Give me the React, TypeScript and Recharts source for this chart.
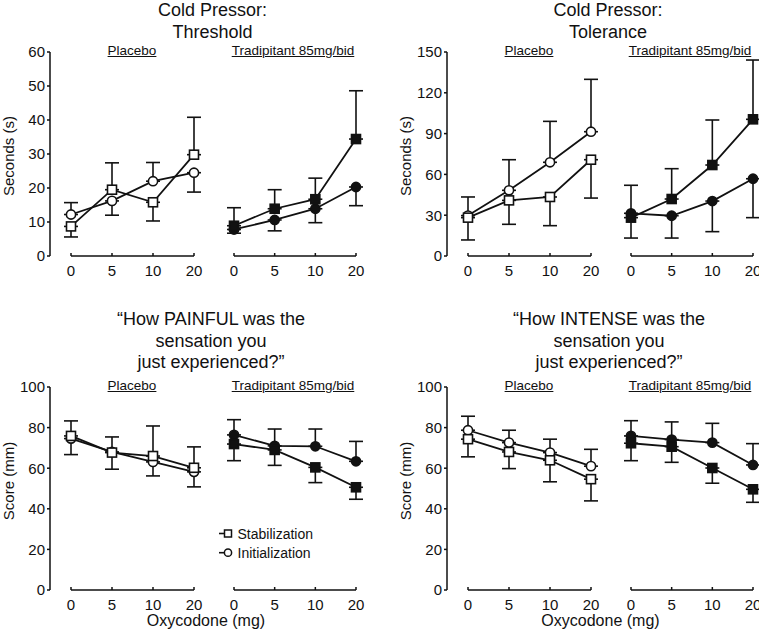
import React from "react";
import { LineChart, Line, XAxis, YAxis, ErrorBar, ReferenceLine } from "recharts";

const INK = "#111";
const FONT = '"Liberation Sans", Arial, Helvetica, sans-serif';

const doses = ["0", "5", "10", "20"];

// Cold Pressor: Threshold (s) — means and the end of the drawn error bar
const thrPlaStab = [8.7, 19.5, 15.8, 29.8];
const thrPlaStabCap = [5.6, 27.4, 10.3, 40.8];
const thrPlaInit = [12.2, 16.2, 22.0, 24.5];
const thrPlaInitCap = [15.7, 12.0, 27.5, 18.8];
const thrTraStab = [8.9, 13.9, 16.7, 34.4];
const thrTraStabCap = [14.2, 19.5, 22.9, 48.6];
const thrTraInit = [7.8, 10.6, 13.9, 20.3];
const thrTraInitCap = [6.7, 7.4, 9.8, 14.8];

// Cold Pressor: Tolerance (s)
const tolPlaStab = [28.2, 40.9, 43.4, 70.8];
const tolPlaStabCap = [11.8, 23.3, 22.3, 42.6];
const tolPlaInit = [29.7, 48.3, 68.9, 91.4];
const tolPlaInitCap = [43.4, 70.8, 99.0, 129.9];
const tolTraStab = [28.2, 41.9, 66.9, 100.5];
const tolTraStabCap = [52.0, 64.2, 100.0, 144.1];
const tolTraInit = [31.4, 29.6, 40.4, 56.8];
const tolTraInitCap = [13.2, 13.2, 17.9, 28.2];

// "How PAINFUL..." score (mm)
const painPlaStab = [75.9, 67.7, 66.0, 60.2];
const painPlaStabCap = [83.3, 75.4, 80.8, 70.5];
const painPlaInit = [74.6, 68.0, 63.1, 58.2];
const painPlaInitCap = [66.7, 59.5, 56.2, 50.8];
const painTraStab = [71.9, 69.0, 60.4, 50.6];
const painTraStabCap = [63.7, 61.4, 52.9, 44.7];
const painTraInit = [76.4, 71.0, 70.8, 63.4];
const painTraInitCap = [83.9, 79.3, 79.3, 73.2];

// "How INTENSE..." score (mm)
const intPlaStab = [74.3, 68.0, 63.9, 54.6];
const intPlaStabCap = [65.6, 59.8, 53.3, 43.9];
const intPlaInit = [78.7, 72.6, 67.7, 61.0];
const intPlaInitCap = [85.6, 78.7, 74.3, 69.3];
const intTraStab = [72.3, 70.6, 60.1, 49.6];
const intTraStabCap = [63.7, 62.9, 52.6, 43.2];
const intTraInit = [75.9, 74.1, 72.6, 61.6];
const intTraInitCap = [83.4, 82.8, 82.1, 72.1];

const secTicks60 = [0, 10, 20, 30, 40, 50, 60];
const secTicks150 = [0, 30, 60, 90, 120, 150];
const scoreTicks = [0, 20, 40, 60, 80, 100];

// one-sided error bars: [below, above]
const errOf = (mean: number, cap: number): [number, number] =>
  cap >= mean ? [0, cap - mean] : [mean - cap, 0];

const rows = (stab: number[], stabCap: number[], init: number[], initCap: number[]) =>
  doses.map((dose, i) => ({
    dose,
    stab: stab[i],
    init: init[i],
    stabErr: errOf(stab[i], stabCap[i]),
    initErr: errOf(init[i], initCap[i]),
  }));

const squareDot = (filled: boolean) => (p: any) => (
  <rect
    key={`s${p.index}`}
    x={p.cx - 4.5}
    y={p.cy - 4.5}
    width={9}
    height={9}
    fill={filled ? INK : "#fff"}
    stroke={INK}
    strokeWidth={1.6}
  />
);

const circleDot = (filled: boolean) => (p: any) => (
  <circle
    key={`c${p.index}`}
    cx={p.cx}
    cy={p.cy}
    r={4.6}
    fill={filled ? INK : "#fff"}
    stroke={INK}
    strokeWidth={1.6}
  />
);

const TOP_M = 12;
const X_H = 34;

function SubChart(props: any) {
  const { data, left, top, width, plotH, margin, padLeft, domain, ticks, showY, filled } = props;
  return (
    <div style={{ position: "absolute", left, top }}>
      <LineChart width={width} height={TOP_M + plotH + X_H} data={data} margin={margin}>
        <XAxis
          dataKey="dose"
          axisLine={false}
          tickLine={{ stroke: INK, strokeWidth: 1.5 }}
          tickSize={-3}
          tickMargin={12}
          tick={{ fill: INK, fontSize: 15 }}
          padding={{ left: padLeft, right: 0 }}
          height={X_H}
          interval={0}
        />
        <YAxis
          hide={!showY}
          width={50}
          domain={domain}
          ticks={ticks}
          interval={0}
          axisLine={{ stroke: INK, strokeWidth: 1.5 }}
          tickLine={{ stroke: INK, strokeWidth: 1.5 }}
          tickSize={3}
          tickMargin={2}
          tick={{ fill: INK, fontSize: 15 }}
        />
        <ReferenceLine
          segment={[
            { x: "0", y: 0 },
            { x: "20", y: 0 },
          ]}
          stroke={INK}
          strokeWidth={1.5}
          ifOverflow="visible"
        />
        <Line
          dataKey="init"
          stroke={INK}
          strokeWidth={1.8}
          dot={circleDot(filled)}
          activeDot={false}
          isAnimationActive={false}
        >
          <ErrorBar dataKey="initErr" width={7} strokeWidth={1.6} stroke={INK} direction="y" />
        </Line>
        <Line
          dataKey="stab"
          stroke={INK}
          strokeWidth={1.8}
          dot={squareDot(filled)}
          activeDot={false}
          isAnimationActive={false}
        >
          <ErrorBar dataKey="stabErr" width={7} strokeWidth={1.6} stroke={INK} direction="y" />
        </Line>
      </LineChart>
    </div>
  );
}

function Panel(props: any) {
  const { axisX, plotTop, plotBottom, domain, ticks, title, titleBaseline, titleLH, titleCx, yLabel, yLabelCx, yLabelCy, placebo, tradipitant, xLabelCx } = props;
  const plotH = plotBottom - plotTop;
  const titleOffset = (titleLH - 20.1) / 2 + 16.3;
  const sub = (text: string, cx: number) => (
    <div
      style={{
        position: "absolute",
        left: cx - 80,
        width: 160,
        top: plotTop + 3.5 - 11.5,
        fontSize: 13.5,
        lineHeight: "13.5px",
        textAlign: "center",
        textDecoration: "underline",
        color: INK,
      }}
    >
      {text}
    </div>
  );
  return (
    <>
      <div
        style={{
          position: "absolute",
          left: titleCx - 150,
          width: 300,
          top: titleBaseline - titleOffset,
          fontSize: 18,
          lineHeight: `${titleLH}px`,
          textAlign: "center",
          color: INK,
        }}
      >
        {title.map((t: string) => (
          <div key={t}>{t}</div>
        ))}
      </div>
      {sub("Placebo", axisX + 82)}
      {sub("Tradipitant 85mg/bid", axisX + 243)}
      <div
        style={{
          position: "absolute",
          left: yLabelCx,
          top: yLabelCy,
          transform: "translate(-50%, -50%) rotate(-90deg)",
          whiteSpace: "nowrap",
          fontSize: 15,
          lineHeight: "17px",
          color: INK,
        }}
      >
        {yLabel}
      </div>
      <SubChart
        data={placebo}
        left={axisX - 50}
        top={plotTop - TOP_M}
        width={50 + 144 + 12}
        plotH={plotH}
        margin={{ top: TOP_M, right: 12, bottom: 0, left: 0 }}
        padLeft={21}
        domain={domain}
        ticks={ticks}
        showY
        filled={false}
      />
      <SubChart
        data={tradipitant}
        left={axisX + 184 - 12}
        top={plotTop - TOP_M}
        width={12 + 122 + 12}
        plotH={plotH}
        margin={{ top: TOP_M, right: 12, bottom: 0, left: 12 }}
        padLeft={0}
        domain={domain}
        ticks={ticks}
        showY={false}
        filled
      />
      {xLabelCx != null && (
        <div
          style={{
            position: "absolute",
            left: xLabelCx - 100,
            width: 200,
            top: 613,
            fontSize: 16,
            lineHeight: "16px",
            textAlign: "center",
            color: INK,
          }}
        >
          Oxycodone (mg)
        </div>
      )}
    </>
  );
}

function LegendBox() {
  const rowsY = [533.5, 552.7];
  return (
    <>
      <svg style={{ position: "absolute", left: 214, top: 524 }} width={22} height={40}>
        <line x1={5} x2={17} y1={rowsY[0] - 524} y2={rowsY[0] - 524} stroke={INK} strokeWidth={1.6} />
        <rect x={10.5} y={rowsY[0] - 524 - 3.5} width={7} height={7} fill="#fff" stroke={INK} strokeWidth={1.5} />
        <line x1={5} x2={17} y1={rowsY[1] - 524} y2={rowsY[1] - 524} stroke={INK} strokeWidth={1.6} />
        <circle cx={14} cy={rowsY[1] - 524} r={3.6} fill="#fff" stroke={INK} strokeWidth={1.5} />
      </svg>
      {["Stabilization", "Initialization"].map((t, i) => (
        <div
          key={t}
          style={{
            position: "absolute",
            left: 237.5,
            top: [526.5, 545.5][i],
            fontSize: 14,
            lineHeight: "14px",
            color: INK,
            whiteSpace: "nowrap",
          }}
        >
          {t}
        </div>
      ))}
    </>
  );
}

export default function App() {
  return (
    <div
      style={{
        position: "absolute",
        left: 0,
        top: 0,
        width: 759,
        height: 632,
        overflow: "hidden",
        background: "#fff",
        fontFamily: FONT,
      }}
    >
      <Panel
        axisX={50}
        plotTop={52}
        plotBottom={256}
        domain={[0, 60]}
        ticks={secTicks60}
        title={["Cold Pressor:", "Threshold"]}
        titleBaseline={16}
        titleLH={22}
        titleCx={212.5}
        yLabel="Seconds (s)"
        yLabelCx={8}
        yLabelCy={156}
        placebo={rows(thrPlaStab, thrPlaStabCap, thrPlaInit, thrPlaInitCap)}
        tradipitant={rows(thrTraStab, thrTraStabCap, thrTraInit, thrTraInitCap)}
      />
      <Panel
        axisX={447}
        plotTop={52}
        plotBottom={256}
        domain={[0, 150]}
        ticks={secTicks150}
        title={["Cold Pressor:", "Tolerance"]}
        titleBaseline={16}
        titleLH={22}
        titleCx={608}
        yLabel="Seconds (s)"
        yLabelCx={404.5}
        yLabelCy={156}
        placebo={rows(tolPlaStab, tolPlaStabCap, tolPlaInit, tolPlaInitCap)}
        tradipitant={rows(tolTraStab, tolTraStabCap, tolTraInit, tolTraInitCap)}
      />
      <Panel
        axisX={50}
        plotTop={387}
        plotBottom={590}
        domain={[0, 100]}
        ticks={scoreTicks}
        title={["\u201cHow PAINFUL was the", "sensation you", "just experienced?\u201d"]}
        titleBaseline={326}
        titleLH={21.5}
        titleCx={211}
        yLabel="Score (mm)"
        yLabelCx={7.5}
        yLabelCy={481}
        placebo={rows(painPlaStab, painPlaStabCap, painPlaInit, painPlaInitCap)}
        tradipitant={rows(painTraStab, painTraStabCap, painTraInit, painTraInitCap)}
        xLabelCx={206}
      />
      <Panel
        axisX={447}
        plotTop={387}
        plotBottom={590}
        domain={[0, 100]}
        ticks={scoreTicks}
        title={["\u201cHow INTENSE was the", "sensation you", "just experienced?\u201d"]}
        titleBaseline={326}
        titleLH={21.5}
        titleCx={609}
        yLabel="Score (mm)"
        yLabelCx={404.5}
        yLabelCy={481}
        placebo={rows(intPlaStab, intPlaStabCap, intPlaInit, intPlaInitCap)}
        tradipitant={rows(intTraStab, intTraStabCap, intTraInit, intTraInitCap)}
        xLabelCx={600.5}
      />
      <LegendBox />
    </div>
  );
}
